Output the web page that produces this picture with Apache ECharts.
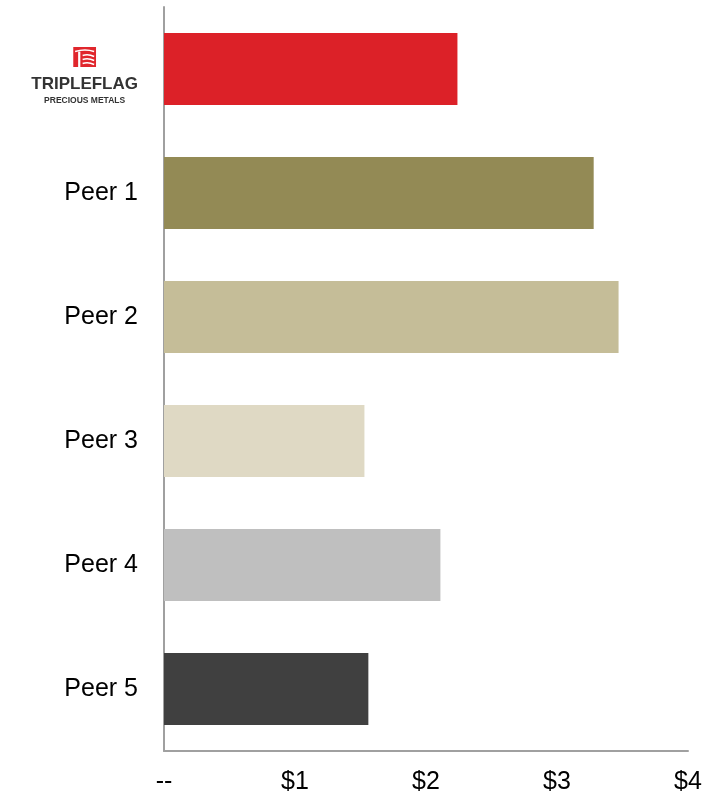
<!DOCTYPE html>
<html>
<head>
<meta charset="utf-8">
<script src="https://cdn.jsdelivr.net/npm/echarts@6/dist/echarts.min.js"></script>
<style>
  html, body { margin: 0; padding: 0; background: #fff; }
  #chart { width: 718px; height: 799px; }
</style>
</head>
<body>
<div id="chart"></div>
<script>
// Companies compared, top to bottom
const categories = ['Triple Flag', 'Peer 1', 'Peer 2', 'Peer 3', 'Peer 4', 'Peer 5'];
// Value per company ($)
const values = [2.24, 3.28, 3.47, 1.53, 2.11, 1.56];
// Bar fill per company
const barColors = ['#dc2128', '#938a55', '#c5bd98', '#dfd9c4', '#bfbfbf', '#404040'];
// Value axis tick labels
const xTickLabels = ['--', '$1', '$2', '$3', '$4'];

// Triple Flag mark: red square with white roof line, post and flag waves
const logoSvg =
  "<svg xmlns='http://www.w3.org/2000/svg' width='23' height='20' viewBox='0 0 23 20'>" +
  "<rect width='23' height='20' fill='#e0262c'/>" +
  "<path d='M2 4.5 Q12 1.5 21 4.5' stroke='#fff' stroke-width='1.6' fill='none'/>" +
  "<rect x='5' y='4.5' width='2.2' height='15.5' fill='#fff'/>" +
  "<path d='M9.5 8.5 Q15 6.5 21 9.5 M9.5 12.5 Q15 10.5 21 13.5 M9.5 16.5 Q15 14.5 21 17.5' stroke='#fff' stroke-width='1.6' fill='none'/>" +
  "</svg>";
const logoUrl = 'data:image/svg+xml;charset=utf-8,' + encodeURIComponent(logoSvg);

const chart = echarts.init(document.getElementById('chart'), null, { renderer: 'canvas' });

chart.setOption({
  animation: false,
  backgroundColor: '#fff',
  grid: { left: 164, right: 30, top: 7, bottom: 48, containLabel: false },
  xAxis: {
    type: 'value',
    min: 0,
    max: 4,
    interval: 1,
    axisLine: { show: true, lineStyle: { color: '#a0a0a0', width: 2 } },
    axisTick: { show: false },
    splitLine: { show: false },
    axisLabel: {
      margin: 19,
      fontFamily: 'Liberation Sans, Arial, sans-serif',
      fontSize: 25,
      color: '#000',
      formatter: (v) => xTickLabels[Math.round(v)]
    }
  },
  yAxis: {
    type: 'category',
    inverse: true,
    data: categories,
    axisLine: { show: true, lineStyle: { color: '#a0a0a0', width: 2 } },
    axisTick: { show: false },
    splitLine: { show: false },
    axisLabel: {
      margin: 26,
      fontFamily: 'Liberation Sans, Arial, sans-serif',
      fontSize: 25,
      color: '#000',
      formatter: (v, i) => {
        if (i === 0) {
          return '{gap| }\n{icon|}\n{brand|TRIPLEFLAG}\n{sub|PRECIOUS METALS}';
        }
        return v;
      },
      rich: {
        gap: { fontSize: 1, lineHeight: 10, align: 'center' },
        icon: {
          width: 23, height: 20, lineHeight: 32, align: 'center',
          backgroundColor: { image: logoUrl }
        },
        brand: {
          fontFamily: 'Liberation Sans, Arial, sans-serif',
          fontSize: 17, fontWeight: 'bold', color: '#333',
          lineHeight: 22, align: 'center'
        },
        sub: {
          fontFamily: 'Liberation Sans, Arial, sans-serif',
          fontSize: 8.5, fontWeight: 'bold', color: '#333',
          lineHeight: 12, align: 'center'
        }
      }
    }
  },
  series: [{
    type: 'bar',
    barWidth: 72,
    data: values.map((v, i) => ({ value: v, itemStyle: { color: barColors[i] } })),
    label: { show: false }
  }]
});
</script>
</body>
</html>
